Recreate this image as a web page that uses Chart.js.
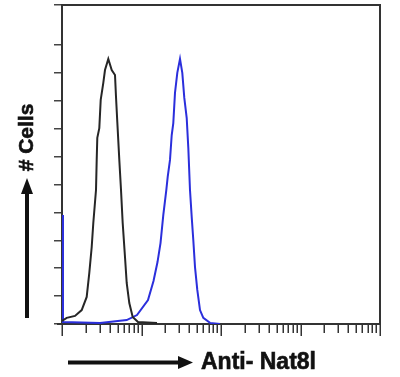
<!DOCTYPE html>
<html>
<head>
<meta charset="utf-8">
<script src="https://cdn.jsdelivr.net/npm/chart.js@4"></script>
<style>
  html, body { margin: 0; padding: 0; background: #fff; }
  #wrap { width: 400px; height: 377px; position: relative; }
</style>
</head>
<body>
<div id="wrap"><canvas id="c"></canvas></div>
<script>
// Isotype control (black) histogram
const controlIntensity = [1.0, 1.146, 1.457, 1.769, 2.045, 2.205, 2.364, 2.476, 2.677, 2.732, 2.780, 2.946, 3.068, 3.308, 3.474, 3.823, 4.220, 4.642, 4.778, 4.962, 5.258, 5.524, 5.800, 6.200, 6.514, 7.023, 7.751, 9.036, 15.67];
const controlCounts    = [1.1, 2.2, 2.9, 5.0, 9.7, 18.3, 27.6, 36.2, 48.0, 58.8, 66.7, 70.2, 80.3, 86.4, 91.0, 95.0, 91.0, 89.2, 81.4, 72.4, 58.8, 48.0, 36.2, 24.0, 14.7, 7.5, 2.5, 0.7, 0.4];
// Anti-Nat8l (blue) histogram
const antibodyIntensity = [1.0, 1.029, 3.006, 6.514, 8.777, 12.07, 14.16, 15.90, 17.34, 18.81, 20.51, 21.36, 22.83, 23.99, 25.12, 26.38, 28.20, 30.50, 32.60, 34.55, 37.04, 38.80, 40.74, 42.80, 44.83, 47.10, 50.33, 54.43, 59.90, 72.71, 97.14];
const antibodyCounts    = [39.1, 0.7, 0.4, 1.4, 3.2, 8.6, 15.4, 22.2, 29.0, 39.1, 48.0, 52.7, 58.8, 67.7, 72.0, 82.8, 90.0, 95.0, 90.0, 81.0, 73.8, 63.1, 48.0, 38.4, 30.1, 20.4, 12.2, 5.0, 2.2, 0.4, 0.0];
// Axis ranges / ticks
const xDecades = [1, 10, 100, 1000];
const xMin = 1, xMax = 10000;
const yMin = 0, yMax = 114.3, yStep = 10;
const yTitle = '# Cells';
const xTitle = 'Anti- Nat8l';

const toPts = (xs, ys) => xs.map((x, i) => ({ x: x, y: ys[i] }));

const decor = {
  id: 'decor',
  beforeDatasetsDraw(chart) {
    const ctx = chart.ctx;
    const a = chart.chartArea;
    const xs = chart.scales.x;
    ctx.save();
    // frame
    ctx.strokeStyle = '#333';
    ctx.lineWidth = 2;
    ctx.strokeRect(a.left, a.top, a.right - a.left, a.bottom - a.top);
    ctx.beginPath();
    ctx.moveTo(a.left - 5, a.bottom);
    ctx.lineTo(a.left, a.bottom);
    ctx.stroke();
    // x log ticks
    ctx.lineWidth = 1.5;
    const tickVals = [];
    xDecades.forEach(d => { for (let m = 1; m <= 9; m++) tickVals.push({ v: m * d, major: m === 1 }); });
    tickVals.push({ v: xMax, major: true });
    tickVals.forEach(t => {
      const px = Math.round(xs.getPixelForValue(t.v)) + 0.25;
      ctx.beginPath();
      ctx.moveTo(px, a.bottom);
      ctx.lineTo(px, a.bottom + (t.major ? 12 : 9));
      ctx.stroke();
    });
    ctx.restore();
  },
  afterDraw(chart) {
    const ctx = chart.ctx;
    ctx.save();
    // y title + arrow
    ctx.fillStyle = '#111';
    ctx.strokeStyle = '#111';
    ctx.lineWidth = 0.6;
    ctx.font = 'bold 21px "Liberation Sans", Arial, sans-serif';
    ctx.save();
    ctx.translate(33, 137.5);
    ctx.rotate(-Math.PI / 2);
    ctx.textAlign = 'center';
    ctx.textBaseline = 'alphabetic';
    ctx.fillText(yTitle, 0, 0);
    ctx.strokeText(yTitle, 0, 0);
    ctx.restore();
    ctx.fillRect(25, 191, 4, 127);
    ctx.beginPath();
    ctx.moveTo(27, 178);
    ctx.lineTo(21, 194);
    ctx.lineTo(33, 194);
    ctx.closePath();
    ctx.fill();
    // x title + arrow
    ctx.fillRect(68, 360.5, 112, 4);
    ctx.beginPath();
    ctx.moveTo(193, 362.5);
    ctx.lineTo(178, 356);
    ctx.lineTo(178, 369);
    ctx.closePath();
    ctx.fill();
    ctx.font = 'bold 23px "Liberation Sans", Arial, sans-serif';
    ctx.textAlign = 'left';
    ctx.textBaseline = 'alphabetic';
    ctx.fillText(xTitle, 201, 369);
    ctx.strokeText(xTitle, 201, 369);
    ctx.restore();
  }
};

new Chart(document.getElementById('c'), {
  type: 'line',
  data: {
    datasets: [
      { label: 'Isotype', data: toPts(controlIntensity, controlCounts), borderColor: '#262626', borderWidth: 2, pointRadius: 0, tension: 0, fill: false },
      { label: 'Anti-Nat8l', data: toPts(antibodyIntensity, antibodyCounts), borderColor: '#2b2fdc', borderWidth: 2, pointRadius: 0, tension: 0, fill: false }
    ]
  },
  options: {
    responsive: true,
    maintainAspectRatio: false,
    animation: false,
    layout: { padding: { top: 5, right: 20, left: 0, bottom: 0 } },
    plugins: { legend: { display: false }, tooltip: { enabled: false } },
    scales: {
      x: {
        type: 'logarithmic', min: xMin, max: xMax,
        ticks: { display: false },
        grid: { display: false },
        border: { display: false },
        afterFit(s) { s.height = 53; }
      },
      y: {
        type: 'linear', min: yMin, max: yMax,
        ticks: { display: false, stepSize: yStep },
        grid: { drawOnChartArea: false, tickLength: 8, color: '#444', lineWidth: 1.5 },
        border: { display: false },
        afterFit(s) { s.width = 62; }
      }
    }
  },
  plugins: [decor]
});
</script>
</body>
</html>
